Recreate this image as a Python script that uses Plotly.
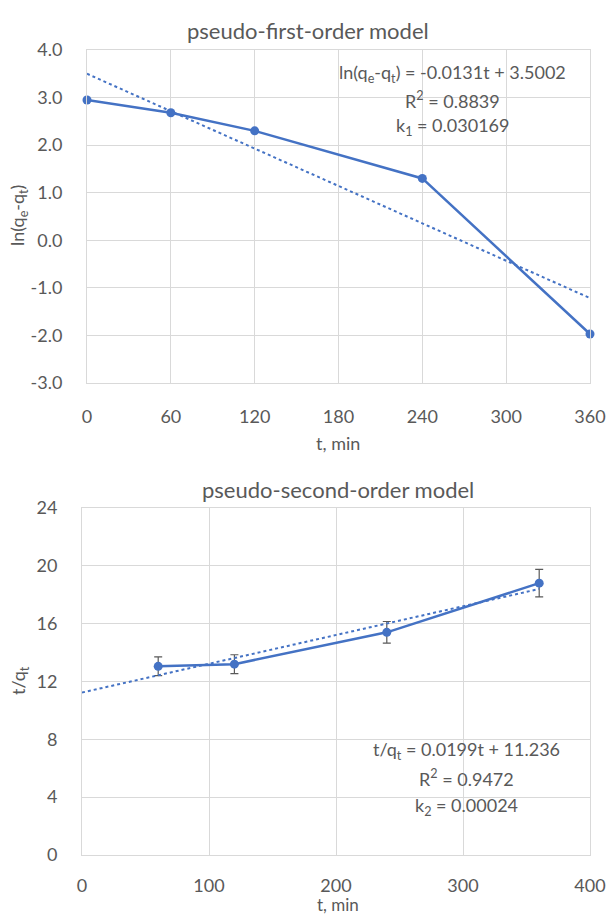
import plotly.graph_objects as go

# ---- data ----
t1 = [0, 60, 120, 240, 360]
ln_qe_qt = [2.95, 2.68, 2.30, 1.30, -1.97]
fit1_slope, fit1_int = -0.0131, 3.5002
fit1_t = [0, 360]

t2 = [60, 120, 240, 360]
t_over_qt = [13.05, 13.2, 15.4, 18.8]
t_over_qt_err = [0.65, 0.65, 0.75, 0.95]
fit2_slope, fit2_int = 0.0199, 11.236
fit2_t = [0, 360]

x1_ticks = [0, 60, 120, 180, 240, 300, 360]
y1_ticks = [4, 3, 2, 1, 0, -1, -2, -3]
x2_ticks = [0, 100, 200, 300, 400]
y2_ticks = [0, 4, 8, 12, 16, 20, 24]

W, H = 606, 915
BLUE = "#4472C4"
TXT = "#595959"
GRID = "#d9d9d9"
FONT = "Lato"

def xp(px):
    return px / W

def yp(py):
    return 1 - py / H

fig = go.Figure()

# top chart
fig.add_trace(go.Scatter(x=t1, y=ln_qe_qt, mode="lines+markers",
                         line=dict(color=BLUE, width=2.5),
                         marker=dict(color=BLUE, size=9), cliponaxis=False,
                         xaxis="x", yaxis="y", showlegend=False))
fig.add_trace(go.Scatter(x=fit1_t, y=[fit1_int + fit1_slope * t for t in fit1_t],
                         mode="lines", line=dict(color=BLUE, width=2, dash="dot"),
                         xaxis="x", yaxis="y", showlegend=False))

# bottom chart
fig.add_trace(go.Scatter(x=t2, y=t_over_qt, mode="lines+markers",
                         line=dict(color=BLUE, width=2.5),
                         marker=dict(color=BLUE, size=9), cliponaxis=False,
                         error_y=dict(type="data", array=t_over_qt_err, color=TXT,
                                      thickness=1.2, width=4),
                         xaxis="x2", yaxis="y2", showlegend=False))
fig.add_trace(go.Scatter(x=fit2_t, y=[fit2_int + fit2_slope * t for t in fit2_t],
                         mode="lines", line=dict(color=BLUE, width=2, dash="dot"),
                         xaxis="x2", yaxis="y2", showlegend=False))

axis_common = dict(showgrid=True, gridcolor=GRID, gridwidth=1, zeroline=False,
                   showline=True, linecolor=GRID, linewidth=1, mirror=True,
                   automargin=False,
                   ticks="", tickfont=dict(family=FONT, size=18, color=TXT))

fig.update_layout(
    width=W, height=H, margin=dict(l=0, r=0, t=0, b=0),
    plot_bgcolor="white", paper_bgcolor="white",
    font=dict(family=FONT, color=TXT),
    xaxis=dict(domain=[xp(87), xp(590)], range=[0, 360], tickvals=x1_ticks,
               ticktext=[str(v) for v in x1_ticks],
               anchor="y", ticklabelstandoff=17, **axis_common),
    yaxis=dict(domain=[yp(383), yp(50)], range=[-3, 4], tickvals=y1_ticks,
               ticktext=[f"{v:.1f}" for v in y1_ticks],
               anchor="x", ticklabelstandoff=20, **axis_common),
    xaxis2=dict(domain=[xp(82), xp(590)], range=[0, 400], tickvals=x2_ticks,
                ticktext=[str(v) for v in x2_ticks],
                anchor="y2", ticklabelstandoff=14, **axis_common),
    yaxis2=dict(domain=[yp(855), yp(508)], range=[0, 24], tickvals=y2_ticks,
                ticktext=[str(v) for v in y2_ticks],
                anchor="x2", ticklabelstandoff=20, **axis_common),
)

def ann(text, x, y, size=18, angle=0):
    fig.add_annotation(text=text, x=xp(x), y=yp(y), xref="paper", yref="paper",
                       showarrow=False, xanchor="center", yanchor="middle",
                       textangle=angle, font=dict(family=FONT, size=size, color=TXT))

# titles
ann("pseudo-first-order model", 308, 30, size=22)
ann("pseudo-second-order model", 338, 489, size=22)
# axis titles
ann("t, min", 338, 443)
ann("ln(q<sub>e</sub>-q<sub>t</sub>)", 19, 216, angle=-90)
ann("t, min", 338, 904, size=17)
ann("t/q<sub>t</sub>", 19, 681, angle=-90)
# equations
ann("ln(q<sub>e</sub>-q<sub>t</sub>) = -0.0131t + 3.5002", 452, 73, size=18)
ann("R<sup>2</sup> = 0.8839", 452, 100, size=18)
ann("k<sub>1</sub> = 0.030169", 452, 127, size=18)
ann("t/q<sub>t</sub> = 0.0199t + 11.236", 466, 750, size=18)
ann("R<sup>2</sup> = 0.9472", 466, 778, size=18)
ann("k<sub>2</sub> = 0.00024", 466, 806, size=18)

fig.write_html("out.html")
